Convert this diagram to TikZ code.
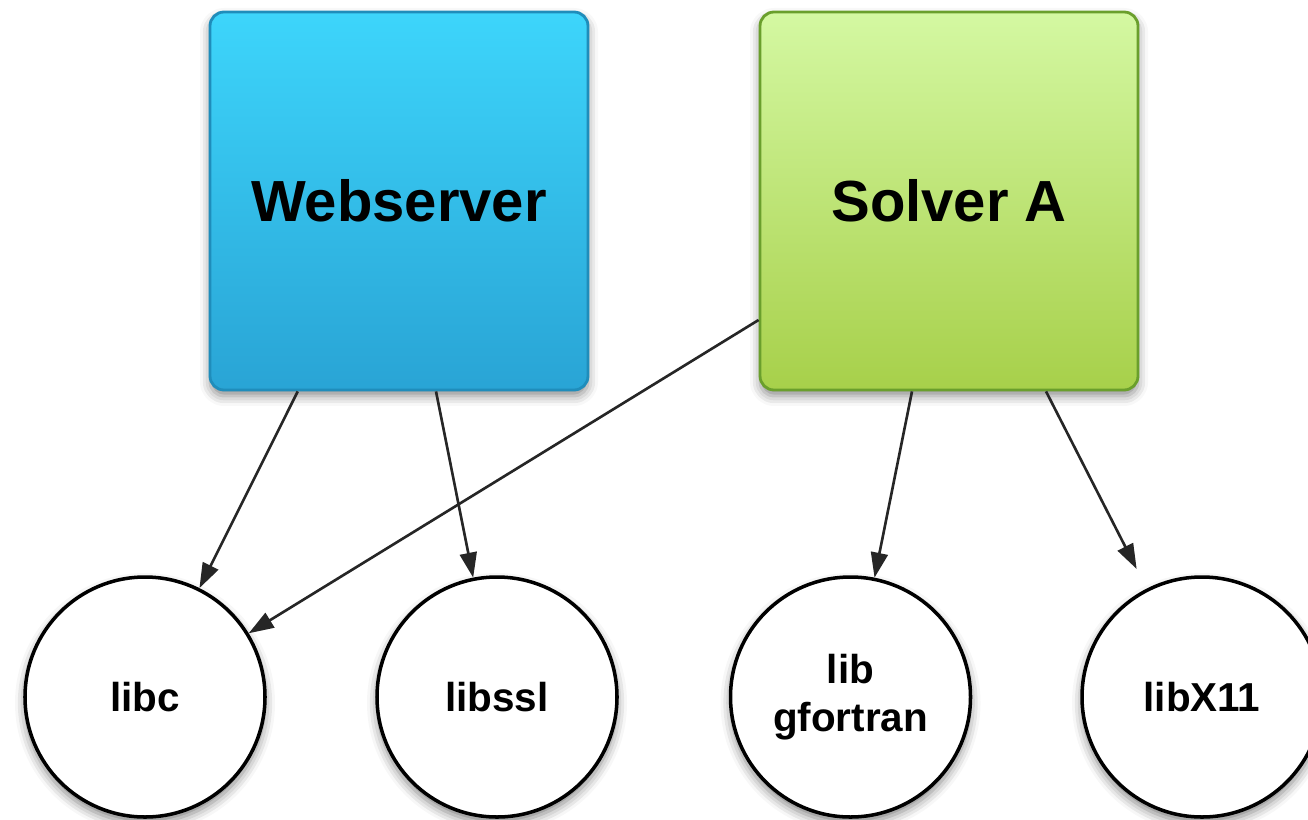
\documentclass[tikz,border=0pt]{standalone}
\usepackage{fontspec}
\setmainfont{Liberation Sans}
\usetikzlibrary{arrows.meta,shadows.blur}

\definecolor{webtop}{HTML}{3DD5FB}
\definecolor{webbot}{HTML}{29A4D5}
\definecolor{webline}{HTML}{1F8DBB}
\definecolor{soltop}{HTML}{D4F8A2}
\definecolor{solbot}{HTML}{A7D04A}
\definecolor{solline}{HTML}{6A9F2C}

\tikzset{
  app/.style={draw, line width=0.8pt, rounded corners=0.14cm, minimum size=3.78cm,
    font=\bfseries\fontsize{16.5}{20}\selectfont,
    blur shadow={shadow xshift=0pt, shadow yshift=-0.06cm, shadow blur radius=0.1cm, shadow opacity=45}},
  lib/.style={circle, draw, line width=1pt, fill=white, minimum size=2.4cm, inner sep=0pt,
    align=center, font=\bfseries\fontsize{11.5}{13.5}\selectfont,
    blur shadow={shadow xshift=0pt, shadow yshift=-0.06cm, shadow blur radius=0.1cm, shadow opacity=50}},
  dep/.style={-{Triangle[length=0.25cm,width=0.17cm]}, line width=0.75pt, draw=black!85},
}

\begin{document}
\begin{tikzpicture}
	\useasboundingbox (0,0) rectangle (13.08,8.19);
	% programs
	\node[app, draw=webline, top color=webtop, bottom color=webbot] (web) at (3.99,6.18) {Webserver};
	\node[app, draw=solline, top color=soltop, bottom color=solbot] (solver) at (9.49,6.18) {Solver A};
	% shared libraries
	\node[lib] (libc) at (1.45,1.22) {libc};
	\node[lib] (libssl) at (4.97,1.22) {libssl};
	\node[lib] (gfortran) at (8.505,1.22) {lib\\gfortran};
	\node[lib] (x11) at (12.02,1.22) {libX11};
	% links
	\draw[dep] (web.242) -- (libc);
	\draw[dep] (web.281) -- (libssl);
	\draw[dep] (solver.212) -- (libc);
	\draw[dep] (solver.259) -- (gfortran);
	\draw[dep, shorten >=0.22cm] (solver.297) -- (x11);
\end{tikzpicture}
\end{document}
